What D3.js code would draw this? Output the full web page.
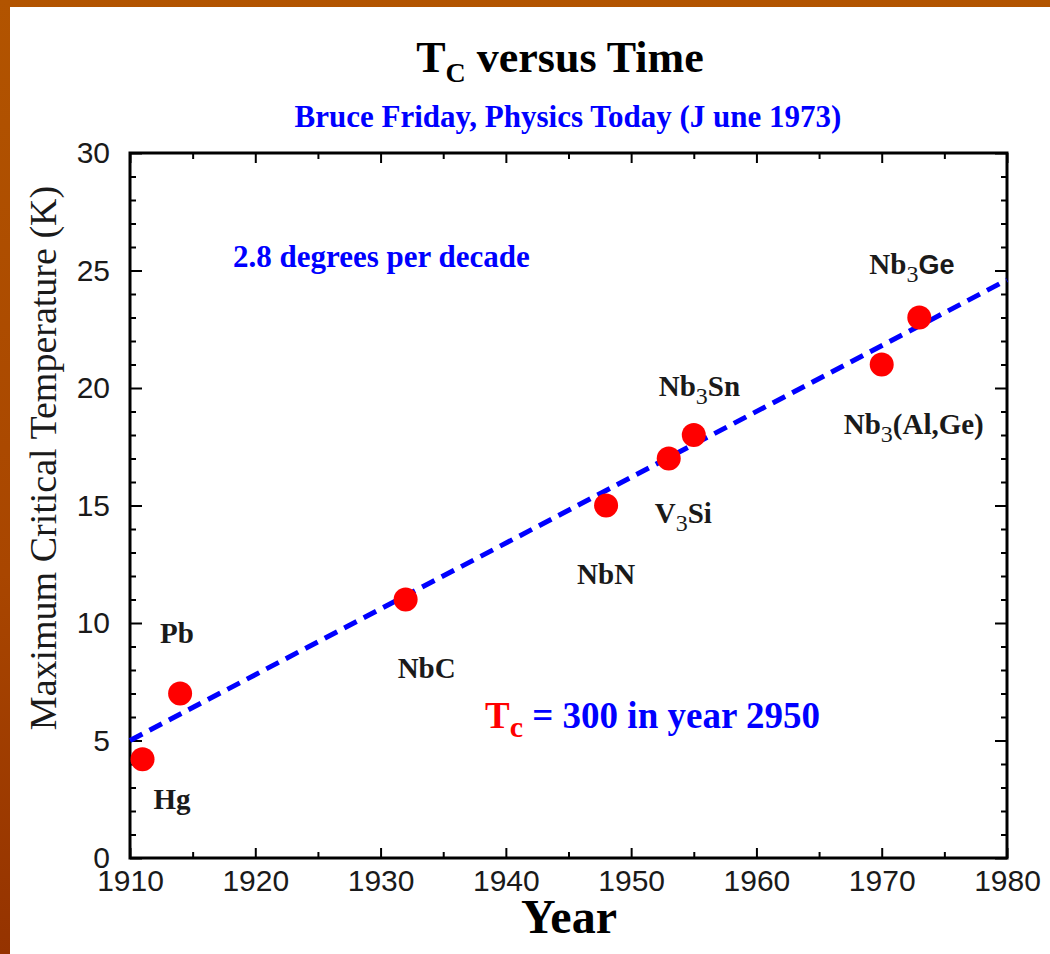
<!DOCTYPE html>
<html>
<head>
<meta charset="utf-8">
<script src="https://cdn.jsdelivr.net/npm/d3@7"></script>
<style>
  body { margin: 0; padding: 0; overflow: hidden; }
  svg { display: block; }
</style>
</head>
<body>
<div id="chart"></div>
<script>
// record Tc of each superconductor, in the order found
var materials = ["Hg", "Pb", "NbC", "NbN", "V3Si", "Nb3Sn", "Nb3(Al,Ge)", "Nb3Ge"]
var years = [1911, 1914, 1932, 1948, 1953, 1955, 1970, 1973]
var tcValues = [4.2, 7, 11, 15, 17, 18, 21, 23]

// label pieces, odd entries are subscripts
var labelParts = [["Hg"], ["Pb"], ["NbC"], ["NbN"], ["V", "3", "Si"], ["Nb", "3", "Sn"], ["Nb", "3", "(Al,Ge)"], ["Nb", "3", "Ge"]]

// the dashed trend, 2.8 degrees per decade
var fitYears = [1910, 1980]
var fitTc = [5.0, 24.6]

// axis ticks
var xMajor = [1910, 1920, 1930, 1940, 1950, 1960, 1970, 1980]
var xMinor = [1915, 1925, 1935, 1945, 1955, 1965, 1975]
var yMajor = [0, 5, 10, 15, 20, 25, 30]
var yMinor = d3.range(0, 31).filter(function(d) { return d % 5 != 0 })

// where the labels sit next to their dot (px)
var labelOffsets = [[11, 50], [-20, -51], [-8, 78], [-29, 78], [-14, 64], [-35, -39], [-38, 69], [-50, -44]]

var W = 1050, H = 954
// note: "top" is taken by window.top, so plot edges get their own names
var plotLeft = 130, plotRight = 1007, plotTop = 153, plotBottom = 858

var svg = d3.select("#chart").append("svg")
    .attr("width", W)
    .attr("height", H)

// orange slide background
var defs = svg.append("defs")
var grad = defs.append("linearGradient")
    .attr("id", "bg")
    .attr("x1", 0).attr("y1", 0).attr("x2", 0).attr("y2", 1)
grad.append("stop").attr("offset", "0%").attr("stop-color", "#b25400")
grad.append("stop").attr("offset", "60%").attr("stop-color", "#a94600")
grad.append("stop").attr("offset", "100%").attr("stop-color", "#953300")

svg.append("rect").attr("width", W).attr("height", H).attr("fill", "url(#bg)")
svg.append("rect")
    .attr("x", 10).attr("y", 7)
    .attr("width", W - 10).attr("height", H - 7)
    .attr("fill", "#ffffff")

var x = d3.scaleLinear().domain([1910, 1980]).range([plotLeft, plotRight])
var y = d3.scaleLinear().domain([0, 30]).range([plotBottom, plotTop])

var serif = "'Liberation Serif', 'Times New Roman', serif"
var sans = "'Liberation Sans', Arial, sans-serif"

// axes with inward ticks
function styleAxis(g) {
    g.select(".domain").remove()
    g.selectAll("line").attr("stroke", "#000").attr("stroke-width", 2)
    g.selectAll("text").attr("font-family", sans).attr("font-size", 30).attr("fill", "#1a1a1a")
}

svg.append("g")
    .attr("transform", "translate(0," + plotBottom + ")")
    .call(d3.axisBottom(x).tickValues(xMajor).tickSize(-10).tickPadding(12).tickFormat(d3.format("d")))
    .call(styleAxis)
svg.append("g")
    .attr("transform", "translate(0," + plotBottom + ")")
    .call(d3.axisBottom(x).tickValues(xMinor).tickSize(-6).tickFormat(""))
    .call(styleAxis)
svg.append("g")
    .attr("transform", "translate(0," + plotTop + ")")
    .call(d3.axisTop(x).tickValues(xMajor).tickSize(-10).tickFormat(""))
    .call(styleAxis)
svg.append("g")
    .attr("transform", "translate(0," + plotTop + ")")
    .call(d3.axisTop(x).tickValues(xMinor).tickSize(-6).tickFormat(""))
    .call(styleAxis)

svg.append("g")
    .attr("transform", "translate(" + plotLeft + ",0)")
    .call(d3.axisLeft(y).tickValues(yMajor).tickSize(-12).tickPadding(20))
    .call(styleAxis)
svg.append("g")
    .attr("transform", "translate(" + plotLeft + ",0)")
    .call(d3.axisLeft(y).tickValues(yMinor).tickSize(-6).tickFormat(""))
    .call(styleAxis)
svg.append("g")
    .attr("transform", "translate(" + plotRight + ",0)")
    .call(d3.axisRight(y).tickValues(yMajor).tickSize(-12).tickFormat(""))
    .call(styleAxis)
svg.append("g")
    .attr("transform", "translate(" + plotRight + ",0)")
    .call(d3.axisRight(y).tickValues(yMinor).tickSize(-6).tickFormat(""))
    .call(styleAxis)

// frame
svg.append("rect")
    .attr("x", plotLeft).attr("y", plotTop)
    .attr("width", plotRight - plotLeft).attr("height", plotBottom - plotTop)
    .attr("fill", "none")
    .attr("stroke", "#000")
    .attr("stroke-width", 3)

// trend line
var line = d3.line()
    .x(function(d, i) { return x(fitYears[i]) })
    .y(function(d) { return y(d) })

svg.append("path")
    .datum(fitTc)
    .attr("d", line)
    .attr("fill", "none")
    .attr("stroke", "#0000ff")
    .attr("stroke-width", 5)
    .attr("stroke-dasharray", "14 8")

// dots
svg.selectAll("circle.pt")
    .data(tcValues)
    .enter().append("circle")
    .attr("class", "pt")
    .attr("cx", function(d, i) { return x(years[i]) })
    .attr("cy", function(d) { return y(d) })
    .attr("r", 12)
    .attr("fill", "#ff0000")

// material labels
var labels = svg.selectAll("text.mat")
    .data(materials)
    .enter().append("text")
    .attr("class", "mat")
    .attr("x", function(d, i) { return x(years[i]) + labelOffsets[i][0] })
    .attr("y", function(d, i) { return y(tcValues[i]) + labelOffsets[i][1] })
    .attr("font-family", serif)
    .attr("font-weight", "bold")
    .attr("font-size", 29)
    .attr("fill", "#1a1a1a")

labels.each(function(d, i) {
    var t = d3.select(this)
    labelParts[i].forEach(function(p, j) {
        var s = t.append("tspan").text(p)
        if (j % 2 == 1) {
            s.attr("font-size", 24).attr("font-weight", "normal").attr("dy", 8)
        } else if (j > 0) {
            s.attr("dy", -8)
            if (d == "Nb3Ge") s.attr("font-family", sans).attr("font-size", 27)
        }
    })
})

// title
var title = svg.append("text")
    .attr("x", 560).attr("y", 72)
    .attr("text-anchor", "middle")
    .attr("font-family", serif)
    .attr("font-weight", "bold")
    .attr("font-size", 44)
    .attr("fill", "#000")
title.append("tspan").text("T")
title.append("tspan").text("C").attr("font-size", 28).attr("dy", 10)
title.append("tspan").text(" versus Time").attr("dy", -10)

svg.append("text")
    .attr("x", 568).attr("y", 127)
    .attr("text-anchor", "middle")
    .attr("font-family", serif)
    .attr("font-weight", "bold")
    .attr("font-size", 31)
    .attr("fill", "#0000ff")
    .text("Bruce Friday, Physics Today (J une 1973)")

// annotations
svg.append("text")
    .attr("x", 233).attr("y", 267)
    .attr("font-family", serif)
    .attr("font-weight", "bold")
    .attr("font-size", 31)
    .attr("fill", "#0000ff")
    .text("2.8 degrees per decade")

var tcNote = svg.append("text")
    .attr("x", 485).attr("y", 728)
    .attr("font-family", serif)
    .attr("font-weight", "bold")
    .attr("font-size", 37)
    .attr("fill", "#0000ff")
tcNote.append("tspan").text("T").attr("fill", "#ff0000")
tcNote.append("tspan").text("c").attr("fill", "#ff0000").attr("font-size", 30).attr("dy", 9)
tcNote.append("tspan").text(" = 300 in year 2950").attr("dy", -9)

// axis titles
svg.append("text")
    .attr("x", 569).attr("y", 933)
    .attr("text-anchor", "middle")
    .attr("font-family", serif)
    .attr("font-weight", "bold")
    .attr("font-size", 48)
    .attr("fill", "#000")
    .text("Year")

svg.append("text")
    .attr("transform", "translate(56,458) rotate(-90)")
    .attr("text-anchor", "middle")
    .attr("font-family", serif)
    .attr("font-size", 38)
    .attr("fill", "#1a1a1a")
    .text("Maximum Critical Temperature (K)")
</script>
</body>
</html>
